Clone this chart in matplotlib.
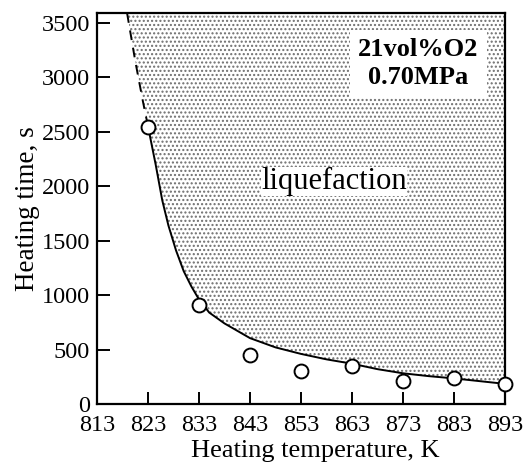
import matplotlib
matplotlib.use('Agg')
import matplotlib.pyplot as plt

# =Data
temps = [823, 833, 843, 853, 863, 873, 883, 893]
times = [2540, 905, 447, 303, 345, 214, 236, 185]

# boundary curve (liquefaction limit), dashed part above the first point
dash_T = [818.9, 820.5, 822.0, 823.0]
dash_y = [3590, 3150, 2780, 2550]
curve_T = [823, 824.5, 825.8, 827, 828.5, 830, 831.5, 833, 835, 838, 843,
           848, 853, 858, 863, 868, 873, 878, 883, 888, 893]
curve_y = [2550, 2200, 1870, 1640, 1410, 1220, 1080, 960, 840, 740, 605,
           520, 460, 410, 370, 320, 282, 256, 235, 210, 185]

xticks = [813, 823, 833, 843, 853, 863, 873, 883, 893]
yticks = [0, 500, 1000, 1500, 2000, 2500, 3000, 3500]
ymax = 3590

plt.rcParams['font.family'] = ['Liberation Serif', 'DejaVu Serif']
plt.rcParams['hatch.color'] = '#6e6e6e'
plt.rcParams['hatch.linewidth'] = 1.0

fig = plt.figure(figsize=(5.23, 4.68), dpi=100)
ax = fig.add_axes([0.1855, 0.1368, 0.78, 0.835])

# shaded liquefaction region
fill_T = dash_T + curve_T[1:]
fill_y = dash_y + curve_y[1:]
ax.fill_between(fill_T, fill_y, ymax, facecolor='white', hatch='....',
                edgecolor='#6e6e6e', linewidth=0, zorder=1)

ax.plot(dash_T, dash_y, color='black', lw=1.4, ls=(0, (5, 4)), zorder=2)
ax.plot(curve_T, curve_y, color='black', lw=1.4, zorder=2)
ax.plot(temps, times, 'o', ms=10, mfc='white', mec='black', mew=1.4,
        zorder=3, clip_on=False)

ax.text(859.5, 2040, 'liquefaction', fontsize=22, ha='center', va='center',
        bbox=dict(facecolor='white', edgecolor='none', pad=0), zorder=4)
ax.text(876, 3130, '21vol%O2\n0.70MPa', fontsize=19, fontweight='bold',
        ha='center', va='center', linespacing=1.25,
        bbox=dict(facecolor='white', edgecolor='none', pad=6), zorder=4)

ax.set_xlim(813, 893)
ax.set_ylim(0, ymax)
ax.set_xticks(xticks)
ax.set_yticks(yticks)
ax.tick_params(direction='in', length=9, width=1.4, labelsize=17.5)
ax.tick_params(axis='x', pad=8)
ax.tick_params(axis='y', pad=5)
for s in ax.spines.values():
    s.set_linewidth(1.6)

ax.set_xlabel('Heating temperature, K', fontsize=19)
ax.xaxis.set_label_coords(0.534, -0.092)
ax.set_ylabel('Heating time, s', fontsize=19.5, labelpad=1)

fig.savefig('out.png', dpi=100)
